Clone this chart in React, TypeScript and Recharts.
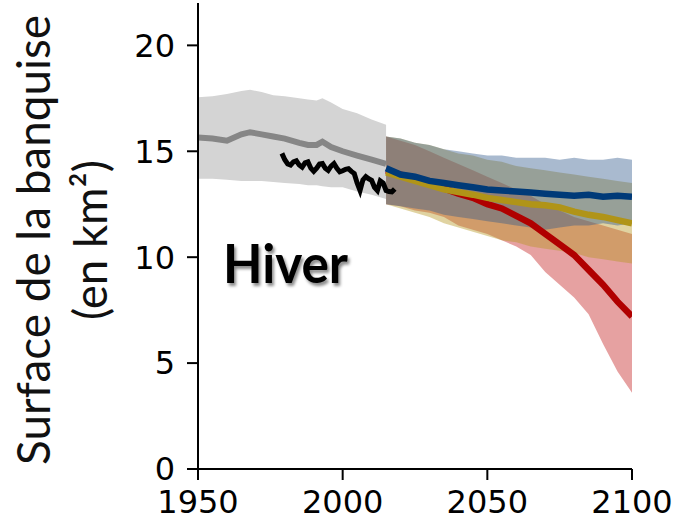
import React from 'react';
import { ComposedChart, Area, Line, XAxis, YAxis } from 'recharts';

// historical simulations (grey)
const histYears = [1950, 1955, 1960, 1965, 1968, 1972, 1976, 1980, 1985, 1988, 1991, 1993, 1996, 2000, 2005, 2010, 2015];
const histMean = [15.65, 15.6, 15.5, 15.8, 15.9, 15.8, 15.7, 15.6, 15.4, 15.3, 15.3, 15.45, 15.2, 15.0, 14.8, 14.6, 14.4];
const histHigh = [17.55, 17.6, 17.7, 17.85, 17.9, 17.8, 17.65, 17.6, 17.5, 17.45, 17.4, 17.5, 17.3, 17.0, 16.8, 16.5, 16.25];
const histLow = [13.7, 13.7, 13.65, 13.6, 13.6, 13.6, 13.55, 13.5, 13.45, 13.4, 13.4, 13.35, 13.3, 13.3, 13.1, 12.95, 12.75];

// observations (black)
const obsYears = [
  1979, 1980, 1981, 1982, 1983, 1984, 1985, 1986, 1987, 1988, 1989, 1990, 1991, 1992,
  1993, 1994, 1995, 1996, 1997, 1998, 1999, 2000, 2001, 2002, 2003, 2004, 2005, 2006,
  2007, 2008, 2009, 2010, 2011, 2012, 2013, 2014, 2015, 2016, 2017, 2018,
];
const obsValues = [
  14.9, 14.6, 14.4, 14.35, 14.5, 14.55, 14.35, 14.25, 14.45, 14.5, 14.2, 14.05, 14.2, 14.4,
  14.42, 14.2, 14.1, 14.3, 14.42, 14.2, 14.03, 14.08, 14.15, 14.18, 14.05, 13.95, 13.5, 13.15,
  13.65, 13.8, 13.7, 13.63, 13.3, 13.15, 13.6, 13.5, 13.15, 13.1, 13.08, 13.22,
];

// scenarios 2015-2100
const scenYears = [2015, 2020, 2025, 2030, 2035, 2040, 2045, 2050, 2055, 2060, 2065, 2070, 2075, 2080, 2085, 2090, 2095, 2100];
const blueMean = [14.2, 13.9, 13.8, 13.6, 13.5, 13.4, 13.3, 13.2, 13.15, 13.1, 13.05, 13.0, 12.95, 12.9, 12.95, 12.85, 12.9, 12.85];
const blueHigh = [15.7, 15.6, 15.4, 15.3, 15.1, 15.0, 14.9, 14.8, 14.8, 14.7, 14.7, 14.7, 14.6, 14.7, 14.6, 14.6, 14.7, 14.6];
const blueLow = [12.5, 12.4, 12.3, 12.2, 12.0, 11.9, 11.8, 11.7, 11.6, 11.5, 11.4, 11.3, 11.4, 11.5, 11.5, 11.6, 11.5, 11.6];
const yellowMean = [14.0, 13.8, 13.6, 13.4, 13.2, 13.07, 12.95, 12.8, 12.7, 12.6, 12.5, 12.45, 12.35, 12.15, 12.0, 11.9, 11.75, 11.6];
const yellowHigh = [15.7, 15.6, 15.4, 15.3, 15.1, 14.9, 14.8, 14.6, 14.5, 14.3, 14.2, 14.1, 14.0, 13.9, 13.8, 13.7, 13.6, 13.5];
const yellowLow = [12.5, 12.3, 12.1, 11.9, 11.6, 11.4, 11.2, 11.0, 10.8, 10.7, 10.5, 10.4, 10.3, 10.2, 10.0, 9.9, 9.8, 9.7];
const redMean = [14.1, 13.9, 13.7, 13.5, 13.25, 13.0, 12.8, 12.5, 12.3, 11.95, 11.6, 11.1, 10.6, 10.1, 9.4, 8.7, 7.9, 7.2];
const redHigh = [15.7, 15.5, 15.3, 15.0, 14.7, 14.4, 14.1, 13.8, 13.5, 13.2, 12.9, 12.5, 12.2, 11.9, 11.7, 11.5, 11.3, 11.1];
const redLow = [12.5, 12.4, 12.2, 12.1, 11.9, 11.5, 11.3, 11.1, 10.8, 10.5, 10.1, 9.3, 8.7, 8.1, 7.3, 5.9, 4.6, 3.6];

const xTicks = [1950, 2000, 2050, 2100];
const yTicks = [0, 5, 10, 15, 20];

const histData = histYears.map((year, i) => ({
  year,
  mean: histMean[i],
  range: [histLow[i], histHigh[i]],
}));
const obsData = obsYears.map((year, i) => ({ year, value: obsValues[i] }));
const scenData = scenYears.map((year, i) => ({
  year,
  blue: blueMean[i],
  blueRange: [blueLow[i], blueHigh[i]],
  yellow: yellowMean[i],
  yellowRange: [yellowLow[i], yellowHigh[i]],
  red: redMean[i],
  redRange: [redLow[i], redHigh[i]],
}));

const tickStyle = { fontSize: 32, fill: '#000', fontFamily: 'DejaVu Sans' };

export default function App() {
  return (
    <div style={{ position: 'absolute', left: 0, top: 0, width: 679, height: 521, background: '#fff' }}>
      <ComposedChart width={679} height={521} margin={{ top: 3, right: 47, bottom: 0, left: 0 }}>
        <XAxis
          type="number"
          dataKey="year"
          domain={[1950, 2100]}
          ticks={xTicks}
          allowDataOverflow
          height={52}
          tickSize={11}
          tickMargin={10}
          tick={tickStyle}
          axisLine={{ stroke: '#000', strokeWidth: 2 }}
          tickLine={{ stroke: '#000', strokeWidth: 2 }}
        />
        <YAxis
          type="number"
          domain={[0, 22]}
          ticks={yTicks}
          allowDataOverflow
          width={198}
          tickSize={11}
          tickMargin={12}
          tick={tickStyle}
          axisLine={{ stroke: '#000', strokeWidth: 2 }}
          tickLine={{ stroke: '#000', strokeWidth: 2 }}
        />
        <Area data={histData} dataKey="range" type="linear" stroke="none" fill="#d4d4d4" fillOpacity={1} isAnimationActive={false} />
        <Area data={scenData} dataKey="redRange" type="linear" stroke="none" fill="#c41e1e" fillOpacity={0.42} isAnimationActive={false} />
        <Area data={scenData} dataKey="yellowRange" type="linear" stroke="none" fill="#b4961e" fillOpacity={0.42} isAnimationActive={false} />
        <Area data={scenData} dataKey="blueRange" type="linear" stroke="none" fill="#325a8c" fillOpacity={0.42} isAnimationActive={false} />
        <Line data={histData} dataKey="mean" type="linear" stroke="#868686" strokeWidth={6} dot={false} isAnimationActive={false} />
        <Line data={scenData} dataKey="red" type="linear" stroke="#b00000" strokeWidth={6.5} dot={false} isAnimationActive={false} />
        <Line data={scenData} dataKey="yellow" type="linear" stroke="#b09418" strokeWidth={6.5} dot={false} isAnimationActive={false} />
        <Line data={scenData} dataKey="blue" type="linear" stroke="#003a78" strokeWidth={6.5} dot={false} isAnimationActive={false} />
        <Line data={obsData} dataKey="value" type="linear" stroke="#000" strokeWidth={5} dot={false} isAnimationActive={false} />
      </ComposedChart>
      <svg width={679} height={521} style={{ position: 'absolute', left: 0, top: 0, pointerEvents: 'none' }}>
        <defs>
          <filter id="shadow" x="-20%" y="-20%" width="140%" height="160%">
            <feDropShadow dx="2" dy="3" stdDeviation="1.5" floodColor="#000" floodOpacity="0.45" />
          </filter>
        </defs>
        <text
          transform="rotate(-90)"
          x={-240}
          y={50}
          textAnchor="middle"
          fontFamily="Lato, 'Open Sans', sans-serif"
          fontSize={46}
          textLength={450}
          lengthAdjust="spacingAndGlyphs"
          fill="#111"
        >
          Surface de la banquise
        </text>
        <text
          transform="rotate(-90)"
          x={-240}
          y={107}
          textAnchor="middle"
          fontFamily="Lato, 'Open Sans', sans-serif"
          fontSize={46}
          textLength={160}
          lengthAdjust="spacingAndGlyphs"
          fill="#111"
        >
          (en km²)
        </text>
        <text
          x={223}
          y={283}
          fontFamily="Lato, 'Open Sans', sans-serif"
          fontWeight={700}
          fontSize={54}
          textLength={125}
          lengthAdjust="spacingAndGlyphs"
          fill="#000"
          filter="url(#shadow)"
        >
          Hiver
        </text>
      </svg>
    </div>
  );
}
